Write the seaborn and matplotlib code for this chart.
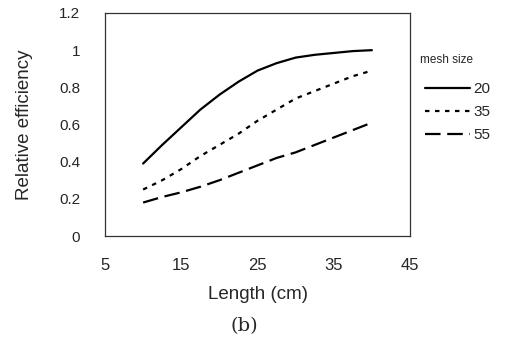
import matplotlib
matplotlib.use("Agg")
import matplotlib.pyplot as plt
import seaborn as sns
import pandas as pd
from matplotlib.lines import Line2D

length = [10, 12.5, 15, 17.5, 20, 22.5, 25, 27.5, 30, 32.5, 35, 37.5, 40]
eff_20 = [0.39, 0.49, 0.585, 0.68, 0.76, 0.83, 0.89, 0.93, 0.96, 0.975, 0.985, 0.995, 1.0]
eff_35 = [0.25, 0.30, 0.36, 0.43, 0.49, 0.55, 0.62, 0.68, 0.74, 0.78, 0.82, 0.86, 0.89]
eff_55 = [0.18, 0.21, 0.235, 0.265, 0.30, 0.34, 0.38, 0.42, 0.45, 0.49, 0.53, 0.57, 0.61]
mesh_sizes = ["20", "35", "55"]
x_ticks = [5, 15, 25, 35, 45]
y_ticks = [0, 0.2, 0.4, 0.6, 0.8, 1.0, 1.2]
y_tick_labels = ["0", "0.2", "0.4", "0.6", "0.8", "1", "1.2"]

df = pd.DataFrame({
    "Length": length * 3,
    "Efficiency": eff_20 + eff_35 + eff_55,
    "mesh": [mesh_sizes[0]] * len(length) + [mesh_sizes[1]] * len(length) + [mesh_sizes[2]] * len(length),
})

sns.set_style("white")
plt.rcParams["font.family"] = ["Liberation Sans", "DejaVu Sans"]

W, H = 505, 344
fig = plt.figure(figsize=(W / 100, H / 100), dpi=100)
ax = fig.add_axes([105 / W, 1 - 236 / H, 305 / W, 223 / H])

dash_styles = {"20": "", "35": (2, 2.5), "55": (7, 3)}
sns.lineplot(
    data=df, x="Length", y="Efficiency", style="mesh",
    dashes=dash_styles, color="black", linewidth=1.6, ax=ax, legend=False,
)

ax.set_xlim(5, 45)
ax.set_ylim(0, 1.2)
ax.set_xticks(x_ticks)
ax.set_xticklabels([str(t) for t in x_ticks], fontsize=12)
ax.set_yticks(y_ticks)
ax.set_yticklabels(y_tick_labels, fontsize=11)
ax.tick_params(axis="y", length=0, pad=18)
ax.tick_params(axis="x", length=0, pad=16)
ax.set_xlabel("Length (cm)", fontsize=13.5)
ax.xaxis.set_label_coords(0.5, -0.225)
ax.set_ylabel("Relative efficiency", fontsize=13.5)
ax.yaxis.set_label_coords(-0.236, 0.5)
for s in ax.spines.values():
    s.set_color("#333333")
    s.set_linewidth(0.9)

handles = [
    Line2D([], [], color="black", lw=1.6, linestyle="-"),
    Line2D([], [], color="black", lw=1.6, linestyle=(0, dash_styles["35"])),
    Line2D([], [], color="black", lw=1.6, linestyle=(0, dash_styles["55"])),
]
fig.text(420 / W, 1 - 60 / H, "mesh size", ha="left", va="center", fontsize=8.5)
fig.legend(
    handles, mesh_sizes, loc="upper left",
    bbox_to_anchor=(422 / W, 1 - 79 / H), frameon=False,
    fontsize=11, handlelength=2.95, handletextpad=0.2,
    labelspacing=0.6, borderpad=0.2, borderaxespad=0,
)

fig.text(244 / W, 1 - 326 / H, "(b)", ha="center", va="center",
         fontsize=14, family=["DejaVu Serif"])

fig.savefig("out.png", dpi=100)
